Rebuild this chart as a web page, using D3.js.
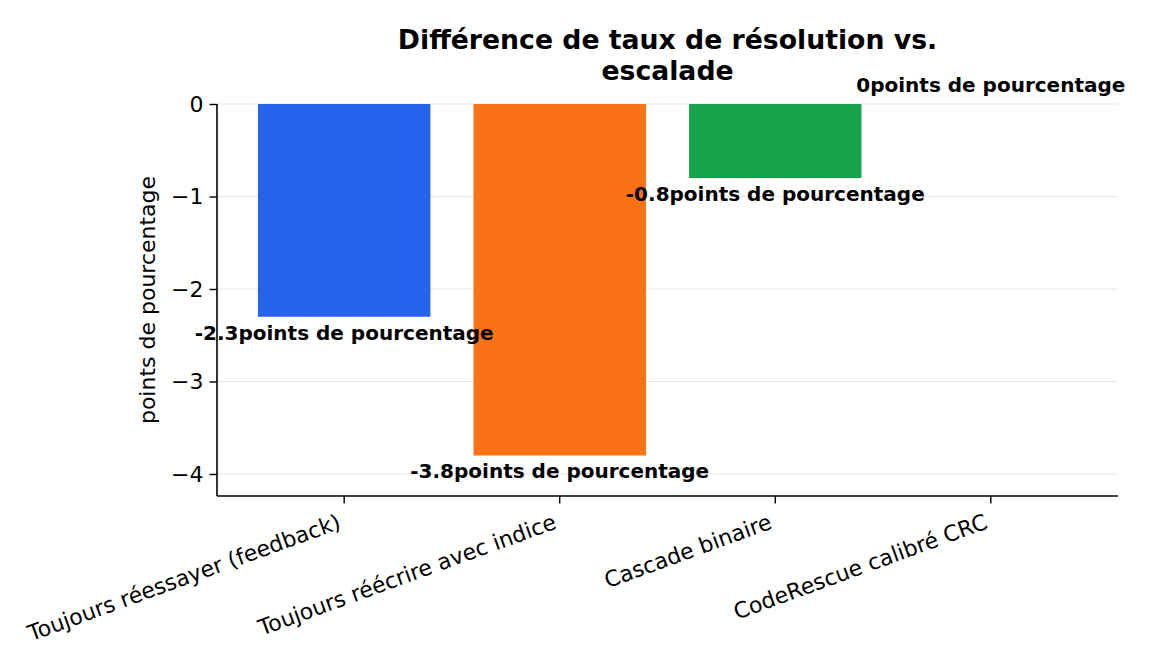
<!DOCTYPE html>
<html><head><meta charset="utf-8">
<script src="https://cdn.jsdelivr.net/npm/d3@7"></script>
<style>body{margin:0;background:#fff;} text{font-family:"DejaVu Sans",sans-serif;}</style>
</head><body>
<svg id="c" width="1152" height="672"></svg>
<script>
const categories = ["Toujours réessayer (feedback)", "Toujours réécrire avec indice", "Cascade binaire", "CodeRescue calibré CRC"];
const values = [-2.3, -3.8, -0.8, 0];
const colors = ["#2563eb", "#f97316", "#16a34a", "#dc2626"];
const yTicks = [0, -1, -2, -3, -4];
const titleLines = ["Différence de taux de résolution vs.", "escalade"];
const yLabel = "points de pourcentage";
const unit = "points de pourcentage";

const svg = d3.select("#c");
const L = 217, R = 1118, T = 104, B = 496;
const x = d3.scaleLinear().domain([-0.59, 3.59]).range([L, R]);
const y = d3.scaleLinear().domain([-4.238, 0]).range([B, T]);
const bw = x(0.4) - x(-0.4);

// grid
svg.append("g").selectAll("line").data(yTicks).join("line")
  .attr("x1", L).attr("x2", R).attr("y1", d => y(d)).attr("y2", d => y(d))
  .attr("stroke", "#e6e6e6").attr("stroke-width", 1.2);

// bars
svg.append("g").selectAll("rect").data(values).join("rect")
  .attr("x", (d, i) => x(i) - bw / 2).attr("width", bw)
  .attr("y", d => y(Math.max(0, d))).attr("height", d => Math.abs(y(d) - y(0)))
  .attr("fill", (d, i) => colors[i]);

// value labels
svg.append("g").selectAll("text").data(values).join("text")
  .attr("x", (d, i) => x(i))
  .attr("y", d => d < 0 ? y(d) + 23 : y(d) - 12)
  .attr("text-anchor", "middle").attr("font-weight", "bold").attr("font-size", 20)
  .text(d => (d === 0 ? "0" : d.toFixed(1)) + unit);

// y axis
const ya = svg.append("g").attr("transform", `translate(${L},0)`)
  .call(d3.axisLeft(y).tickValues(yTicks).tickSize(7.5).tickPadding(6).tickFormat(d => d === 0 ? "0" : "\u2212" + Math.abs(d)));
ya.select(".domain").remove();
ya.selectAll("text").attr("font-size", 22).attr("font-family", "DejaVu Sans").attr("fill", "#000");
ya.selectAll("line").attr("stroke", "#000").attr("stroke-width", 1.4);

// x axis
const xa = svg.append("g").attr("transform", `translate(0,${B})`);
xa.selectAll("line").data(categories).join("line")
  .attr("x1", (d, i) => x(i)).attr("x2", (d, i) => x(i)).attr("y1", 0).attr("y2", 7.5)
  .attr("stroke", "#000").attr("stroke-width", 1.4);
xa.selectAll("text").data(categories).join("text")
  .attr("transform", (d, i) => `translate(${x(i) - 2},${32}) rotate(-20)`)
  .attr("text-anchor", "end").attr("font-size", 22).text(d => d);

// spines
svg.append("line").attr("x1", L).attr("x2", L).attr("y1", T).attr("y2", B).attr("stroke", "#000").attr("stroke-width", 1.6);
svg.append("line").attr("x1", L).attr("x2", R).attr("y1", B).attr("y2", B).attr("stroke", "#000").attr("stroke-width", 1.6);

// y label
svg.append("text").attr("transform", `translate(155,${(T + B) / 2}) rotate(-90)`)
  .attr("text-anchor", "middle").attr("font-size", 22).text(yLabel);

// title
svg.append("g").selectAll("text").data(titleLines).join("text")
  .attr("x", (L + R) / 2).attr("y", (d, i) => 49 + i * 31)
  .attr("text-anchor", "middle").attr("font-weight", "bold").attr("font-size", 26.7).text(d => d);
</script>
</body></html>
